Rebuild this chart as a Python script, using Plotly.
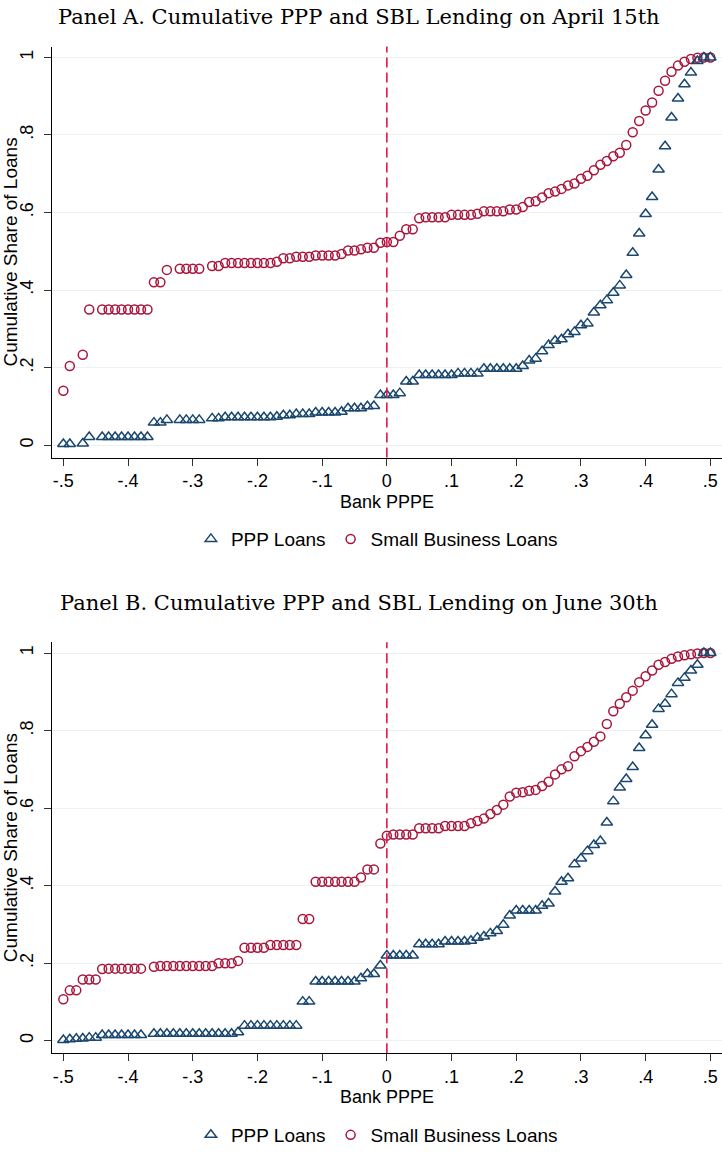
import plotly.graph_objects as go

# ---------------- Data ----------------
# Panel A (April 15th): bins of Bank PPPE present in the data
x_a = [-0.50, -0.49, -0.47, -0.46, -0.44, -0.43, -0.42, -0.41, -0.40, -0.39, -0.38, -0.37,
       -0.36, -0.35, -0.34, -0.32, -0.31, -0.30, -0.29, -0.27, -0.26, -0.25, -0.24, -0.23,
       -0.22, -0.21, -0.20, -0.19, -0.18, -0.17, -0.16, -0.15, -0.14, -0.13, -0.12, -0.11,
       -0.10, -0.09, -0.08, -0.07, -0.06, -0.05, -0.04, -0.03, -0.02, -0.01, 0.00,
       0.01, 0.02, 0.03, 0.04, 0.05, 0.06, 0.07, 0.08, 0.09, 0.10, 0.11, 0.12, 0.13, 0.14,
       0.15, 0.16, 0.17, 0.18, 0.19, 0.20, 0.21, 0.22, 0.23, 0.24, 0.25, 0.26, 0.27, 0.28,
       0.29, 0.30, 0.31, 0.32, 0.33, 0.34, 0.35, 0.36, 0.37, 0.38, 0.39, 0.40, 0.41, 0.42,
       0.43, 0.44, 0.45, 0.46, 0.47, 0.48, 0.49, 0.50]

ppp_a = [0.003, 0.003, 0.004, 0.021, 0.021, 0.021, 0.021, 0.021, 0.021, 0.021, 0.021, 0.021,
         0.058, 0.058, 0.065, 0.065, 0.065, 0.065, 0.065, 0.069, 0.069, 0.072, 0.072, 0.072,
         0.072, 0.072, 0.072, 0.072, 0.072, 0.073, 0.077, 0.077, 0.080, 0.080, 0.080, 0.084,
         0.084, 0.084, 0.084, 0.086, 0.095, 0.095, 0.095, 0.100, 0.101, 0.129, 0.129,
         0.129, 0.134, 0.164, 0.164, 0.181, 0.181, 0.181, 0.181, 0.181, 0.181, 0.185, 0.185,
         0.185, 0.185, 0.197, 0.197, 0.197, 0.197, 0.197, 0.197, 0.204, 0.218, 0.223, 0.242,
         0.258, 0.269, 0.273, 0.286, 0.292, 0.309, 0.314, 0.342, 0.361, 0.374, 0.393, 0.412,
         0.439, 0.496, 0.546, 0.596, 0.640, 0.711, 0.771, 0.845, 0.894, 0.931, 0.961, 0.991,
         1.000, 1.000]

sbl_a = [0.140, 0.204, 0.233, 0.350, 0.350, 0.350, 0.350, 0.350, 0.350, 0.350, 0.350, 0.350,
         0.420, 0.420, 0.452, 0.455, 0.455, 0.455, 0.455, 0.462, 0.462, 0.470, 0.470, 0.470,
         0.470, 0.470, 0.470, 0.470, 0.470, 0.473, 0.482, 0.482, 0.486, 0.486, 0.486, 0.489,
         0.489, 0.489, 0.489, 0.493, 0.502, 0.502, 0.505, 0.509, 0.509, 0.522, 0.524,
         0.524, 0.540, 0.557, 0.557, 0.585, 0.588, 0.588, 0.588, 0.588, 0.594, 0.594, 0.594,
         0.594, 0.597, 0.603, 0.603, 0.603, 0.603, 0.608, 0.608, 0.614, 0.627, 0.629, 0.639,
         0.650, 0.654, 0.661, 0.670, 0.675, 0.687, 0.695, 0.709, 0.723, 0.733, 0.745, 0.754,
         0.774, 0.807, 0.836, 0.863, 0.884, 0.914, 0.940, 0.963, 0.979, 0.989, 0.996, 0.999,
         1.000, 1.000]

# Panel B (June 30th)
x_b = [-0.50, -0.49, -0.48, -0.47, -0.46, -0.45, -0.44, -0.43, -0.42, -0.41, -0.40, -0.39,
       -0.38, -0.36, -0.35, -0.34, -0.33, -0.32, -0.31, -0.30, -0.29, -0.28, -0.27, -0.26,
       -0.25, -0.24, -0.23, -0.22, -0.21, -0.20, -0.19, -0.18, -0.17, -0.16, -0.15, -0.14,
       -0.13, -0.12, -0.11, -0.10, -0.09, -0.08, -0.07, -0.06, -0.05, -0.04, -0.03, -0.02,
       -0.01, 0.00, 0.01, 0.02, 0.03, 0.04, 0.05, 0.06, 0.07, 0.08, 0.09, 0.10, 0.11, 0.12,
       0.13, 0.14, 0.15, 0.16, 0.17, 0.18, 0.19, 0.20, 0.21, 0.22, 0.23, 0.24, 0.25, 0.26,
       0.27, 0.28, 0.29, 0.30, 0.31, 0.32, 0.33, 0.34, 0.35, 0.36, 0.37, 0.38, 0.39, 0.40,
       0.41, 0.42, 0.43, 0.44, 0.45, 0.46, 0.47, 0.48, 0.49, 0.50]

ppp_b = [0.002, 0.004, 0.005, 0.006, 0.008, 0.008, 0.015, 0.015, 0.015, 0.015, 0.015, 0.015,
         0.015, 0.018, 0.018, 0.018, 0.018, 0.018, 0.018, 0.018, 0.018, 0.018, 0.018, 0.018,
         0.018, 0.018, 0.022, 0.039, 0.039, 0.039, 0.039, 0.039, 0.039, 0.039, 0.039, 0.039,
         0.101, 0.101, 0.153, 0.153, 0.153, 0.153, 0.153, 0.153, 0.153, 0.161, 0.172, 0.172,
         0.194, 0.220, 0.220, 0.220, 0.220, 0.220, 0.249, 0.249, 0.249, 0.249, 0.256, 0.256,
         0.256, 0.256, 0.258, 0.266, 0.269, 0.277, 0.283, 0.299, 0.323, 0.336, 0.336, 0.336,
         0.336, 0.348, 0.354, 0.385, 0.410, 0.419, 0.455, 0.470, 0.489, 0.505, 0.515, 0.563,
         0.618, 0.653, 0.675, 0.706, 0.755, 0.788, 0.815, 0.856, 0.869, 0.894, 0.923, 0.936,
         0.955, 0.970, 1.000, 1.000]

sbl_b = [0.107, 0.130, 0.130, 0.158, 0.158, 0.158, 0.185, 0.186, 0.186, 0.186, 0.186, 0.186,
         0.186, 0.191, 0.193, 0.193, 0.193, 0.193, 0.193, 0.193, 0.193, 0.193, 0.193, 0.200,
         0.200, 0.200, 0.206, 0.240, 0.240, 0.240, 0.240, 0.247, 0.247, 0.247, 0.247, 0.247,
         0.314, 0.314, 0.410, 0.410, 0.410, 0.410, 0.410, 0.410, 0.410, 0.421, 0.442, 0.442,
         0.509, 0.529, 0.532, 0.532, 0.532, 0.532, 0.548, 0.548, 0.548, 0.548, 0.554, 0.554,
         0.554, 0.554, 0.561, 0.567, 0.573, 0.585, 0.595, 0.609, 0.630, 0.640, 0.641, 0.645,
         0.647, 0.657, 0.668, 0.687, 0.700, 0.708, 0.734, 0.747, 0.758, 0.771, 0.785, 0.817,
         0.850, 0.869, 0.886, 0.903, 0.925, 0.940, 0.955, 0.970, 0.977, 0.985, 0.991, 0.994,
         0.997, 0.999, 1.000, 1.000]

panel_titles = ["Panel A. Cumulative PPP and SBL Lending on April 15th",
                "Panel B. Cumulative PPP and SBL Lending on June 30th"]
series_names = ["PPP Loans", "Small Business Loans"]
x_tickvals = [-0.5, -0.4, -0.3, -0.2, -0.1, 0, 0.1, 0.2, 0.3, 0.4, 0.5]
x_ticktext = ["-.5", "-.4", "-.3", "-.2", "-.1", "0", ".1", ".2", ".3", ".4", ".5"]
y_tickvals = [0, 0.2, 0.4, 0.6, 0.8, 1]
y_ticktext = ["0", ".2", ".4", ".6", ".8", "1"]
x_title = "Bank PPPE"
y_title = "Cumulative Share of Loans"

# ---------------- Style ----------------
W, H = 722, 1154
NAVY = "#1a476f"
MAROON = "#a8163c"
VLINE = "#e0194a"
GRID = "#e9f1f3"
SANS = "Liberation Sans, Arial, sans-serif"
SERIF = "DejaVu Serif, serif"

def px_x(p):
    return p / W

def px_y(p):
    return 1 - p / H

# plot areas in pixels (top, bottom)
panels = [
    dict(top=46.7, bottom=458.3, title_y=17, xt_y=503, leg_y=540),
    dict(top=643.3, bottom=1055.0, title_y=604, xt_y=1099, leg_y=1137),
]
x_left = 51.7

fig = go.Figure()

data = [(x_a, ppp_a, sbl_a), (x_b, ppp_b, sbl_b)]
for i, (xs, ppp, sbl) in enumerate(data):
    xa = "x" if i == 0 else "x2"
    ya = "y" if i == 0 else "y2"
    leg = "legend" if i == 0 else "legend2"
    fig.add_trace(go.Scatter(
        x=xs, y=sbl, mode="markers", name=series_names[1], xaxis=xa, yaxis=ya,
        legend=leg, legendrank=2,
        marker=dict(symbol="circle-open", size=9, color=MAROON, line=dict(width=1.5, color=MAROON)),
    ))
    fig.add_trace(go.Scatter(
        x=xs, y=ppp, mode="markers", name=series_names[0], xaxis=xa, yaxis=ya,
        legend=leg, legendrank=1,
        marker=dict(symbol="triangle-up-open", size=10, color=NAVY, line=dict(width=1.5, color=NAVY)),
    ))

axis_common_x = dict(
    range=[-0.518, 0.518], tickvals=x_tickvals, ticktext=x_ticktext,
    showgrid=False, zeroline=False, showline=True, linecolor="black", linewidth=1.3,
    ticks="outside", ticklen=7, tickwidth=1.3, tickcolor="#333",
    tickfont=dict(family=SANS, size=18, color="black"),
)
axis_common_y = dict(
    range=[-0.032, 1.028], tickvals=y_tickvals, ticktext=y_ticktext,
    showgrid=True, gridcolor=GRID, gridwidth=1.3, zeroline=False,
    showline=True, linecolor="black", linewidth=1.3,
    ticks="outside", ticklen=7, tickwidth=1.3, tickcolor="#333", tickangle=-90,
    ticklabelstandoff=3,
    tickfont=dict(family=SANS, size=18, color="black"),
)

fig.update_layout(
    width=W, height=H,
    margin=dict(l=0, r=0, t=0, b=0),
    paper_bgcolor="white", plot_bgcolor="white",
    xaxis=dict(domain=[px_x(x_left), 1], anchor="y", **axis_common_x),
    yaxis=dict(domain=[px_y(panels[0]["bottom"]), px_y(panels[0]["top"])], anchor="x", **axis_common_y),
    xaxis2=dict(domain=[px_x(x_left), 1], anchor="y2", **axis_common_x),
    yaxis2=dict(domain=[px_y(panels[1]["bottom"]), px_y(panels[1]["top"])], anchor="x2", **axis_common_y),
    showlegend=True,
    legend=dict(orientation="h", xanchor="center", yanchor="middle", x=0.522,
                y=px_y(panels[0]["leg_y"]), font=dict(family=SANS, size=19, color="black"),
                traceorder="normal", itemwidth=30, bgcolor="rgba(0,0,0,0)"),
    legend2=dict(orientation="h", xanchor="center", yanchor="middle", x=0.522,
                 y=px_y(panels[1]["leg_y"]), font=dict(family=SANS, size=19, color="black"),
                 traceorder="normal", itemwidth=30, bgcolor="rgba(0,0,0,0)"),
)

# dashed vertical reference line at 0 in each panel
for xr, yr in [("x", "y domain"), ("x2", "y2 domain")]:
    fig.add_shape(type="line", xref=xr, yref=yr, x0=0, x1=0, y0=0, y1=1,
                  line=dict(color=VLINE, width=1.6, dash="10px,5px"), layer="above")

# titles and axis titles
for i, p in enumerate(panels):
    fig.add_annotation(text=panel_titles[i], xref="paper", yref="paper",
                       x=px_x(359), y=px_y(p["title_y"]), xanchor="center", yanchor="middle",
                       showarrow=False, font=dict(family=SERIF, size=21, color="black"))
    fig.add_annotation(text=x_title, xref="paper", yref="paper",
                       x=px_x(387), y=px_y(p["xt_y"]), xanchor="center", yanchor="middle",
                       showarrow=False, font=dict(family=SANS, size=18, color="black"))
    fig.add_annotation(text=y_title, xref="paper", yref="paper", textangle=-90,
                       x=px_x(10.5), y=px_y((p["top"] + p["bottom"]) / 2 + 0), xanchor="center",
                       yanchor="middle", showarrow=False,
                       font=dict(family=SANS, size=19, color="black"))

fig.write_html("out.html", config={"displayModeBar": False},
               post_script="document.body.style.margin='0px';")
